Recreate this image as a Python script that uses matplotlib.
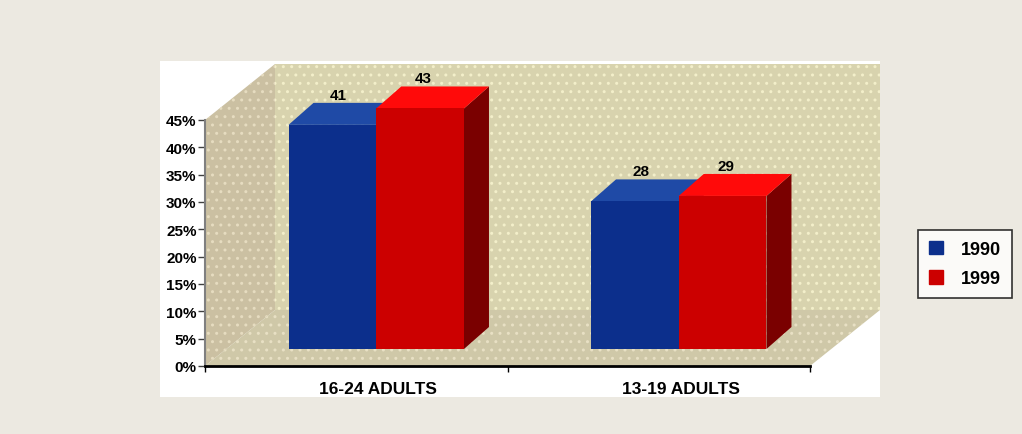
import matplotlib.pyplot as plt
from matplotlib.patches import Polygon, Rectangle
from matplotlib import transforms

# data
categories = ["16-24 ADULTS", "13-19 ADULTS"]
years = ["1990", "1999"]
values_1990 = [41, 27]
values_1999 = [44, 28]
labels_1990 = ["41", "28"]
labels_1999 = ["43", "29"]
y_ticks = [0, 5, 10, 15, 20, 25, 30, 35, 40, 45]

BLUE = "#0c2f8c"
BLUE_TOP = "#1f4aa6"
BLUE_SIDE = "#0a2060"
RED = "#cc0000"
RED_TOP = "#ff0a0a"
RED_SIDE = "#7a0000"

W, H = 1022, 435
fig = plt.figure(figsize=(W / 100, H / 100), dpi=100)
fig.patch.set_facecolor("#ece9e1")
plt.rcParams["font.family"] = ["Liberation Sans", "DejaVu Sans"]

# white chart box
fig.add_artist(Rectangle((160 / W, (H - 398) / H), 720 / W, 336 / H,
                         transform=fig.transFigure, facecolor="white", edgecolor="none", zorder=0))

ax = fig.add_axes([205 / W, 68 / H, 605 / W, 246 / H])
ax.set_xlim(-0.5, 1.5)
ax.set_ylim(0, 45)
ax.patch.set_visible(False)

# pixel -> data unit helpers
px_x = 605 / 2.0
px_y = 246 / 45.0


def ux(p):
    return p / px_x


def uy(p):
    return p / px_y


# walls (depth offset 70, 56 px)
dX, dY = ux(70), uy(56)
x0, x1 = -0.5, 1.5
left_wall = Polygon([(x0, 0), (x0, 45), (x0 + dX, 45 + dY), (x0 + dX, dY)], closed=True,
                    facecolor="#cbc0a2", edgecolor="#e6dcc0", hatch="..", lw=0, clip_on=False, zorder=1)
back_wall = Polygon([(x0 + dX, dY), (x0 + dX, 45 + dY), (x1 + dX, 45 + dY), (x1 + dX, dY)], closed=True,
                    facecolor="#d8d3ae", edgecolor="#f3efca", hatch="..", lw=0, clip_on=False, zorder=1)
floor = Polygon([(x0, 0), (x1, 0), (x1 + dX, dY), (x0 + dX, dY)], closed=True,
                facecolor="#cfc8a8", edgecolor="#e8e0c4", hatch="..", lw=0, clip_on=False, zorder=1)
for p in (left_wall, back_wall, floor):
    ax.add_patch(p)

# bars: sit at depth offset, with their own depth
bar_w = 0.29
ox, oy = ux(20), uy(17)
bdx, bdy = ux(25), uy(22)


def draw_bar(xl, v, front, top, side, z):
    xa, xb = xl + ox, xl + bar_w + ox
    ax.add_patch(Polygon([(xb, oy), (xb + bdx, oy + bdy), (xb + bdx, v + oy + bdy), (xb, v + oy)],
                         closed=True, facecolor=side, edgecolor="none", clip_on=False, zorder=z))
    ax.add_patch(Polygon([(xa, v + oy), (xb, v + oy), (xb + bdx, v + oy + bdy), (xa + bdx, v + oy + bdy)],
                         closed=True, facecolor=top, edgecolor="none", clip_on=False, zorder=z))
    ax.bar(xl + ox, v, width=bar_w, bottom=oy, align="edge", color=front, zorder=z + 0.1, clip_on=False)


for i in range(len(categories)):
    draw_bar(i - bar_w, values_1990[i], BLUE, BLUE_TOP, BLUE_SIDE, 3)
    draw_bar(i, values_1999[i], RED, RED_TOP, RED_SIDE, 4)
    ax.text(i - bar_w / 2 + ox + ux(6), values_1990[i] + oy + bdy + uy(1), labels_1990[i],
            ha="center", va="bottom", fontsize=11, fontweight="bold", zorder=6)
    ax.text(i + bar_w / 2 + ox + ux(3), values_1999[i] + oy + bdy + uy(1), labels_1999[i],
            ha="center", va="bottom", fontsize=11, fontweight="bold", zorder=6)

# axes styling
for s in ("top", "right"):
    ax.spines[s].set_visible(False)
ax.spines["left"].set_color("#808080")
ax.spines["left"].set_linewidth(1.5)
ax.spines["bottom"].set_color("black")
ax.spines["bottom"].set_linewidth(2)
ax.spines["left"].set_zorder(5)
ax.spines["bottom"].set_zorder(5)

ax.set_yticks(y_ticks)
ax.set_yticklabels([f"{t}%" for t in y_ticks], fontsize=11, fontweight="bold")
ax.tick_params(axis="y", length=5, width=1, color="#404040", pad=1)
ax.set_xticks([-0.5, 0.5, 1.5])
ax.set_xticklabels([])
ax.tick_params(axis="x", length=4, width=1)

lbl_tf = transforms.offset_copy(ax.transData, fig=fig, x=22, y=-15, units="dots")
for i, c in enumerate(categories):
    ax.text(i, 0, c, transform=lbl_tf, ha="center", va="top", fontsize=12.5, fontweight="bold")

# legend
lg_handles = [Rectangle((0, 0), 1, 1, color=BLUE), Rectangle((0, 0), 1, 1, color=RED)]
leg = fig.legend(lg_handles, years, loc="center", bbox_to_anchor=(965 / W, (H - 265) / H),
                 frameon=True, fancybox=False, fontsize=13, handlelength=0.8, handleheight=0.8,
                 borderpad=0.6, labelspacing=0.7, handletextpad=1.0, borderaxespad=0)
leg.get_frame().set_edgecolor("black")
leg.get_frame().set_linewidth(1.2)
for t in leg.get_texts():
    t.set_fontweight("bold")

fig.savefig("out.png", dpi=100, facecolor=fig.get_facecolor())
